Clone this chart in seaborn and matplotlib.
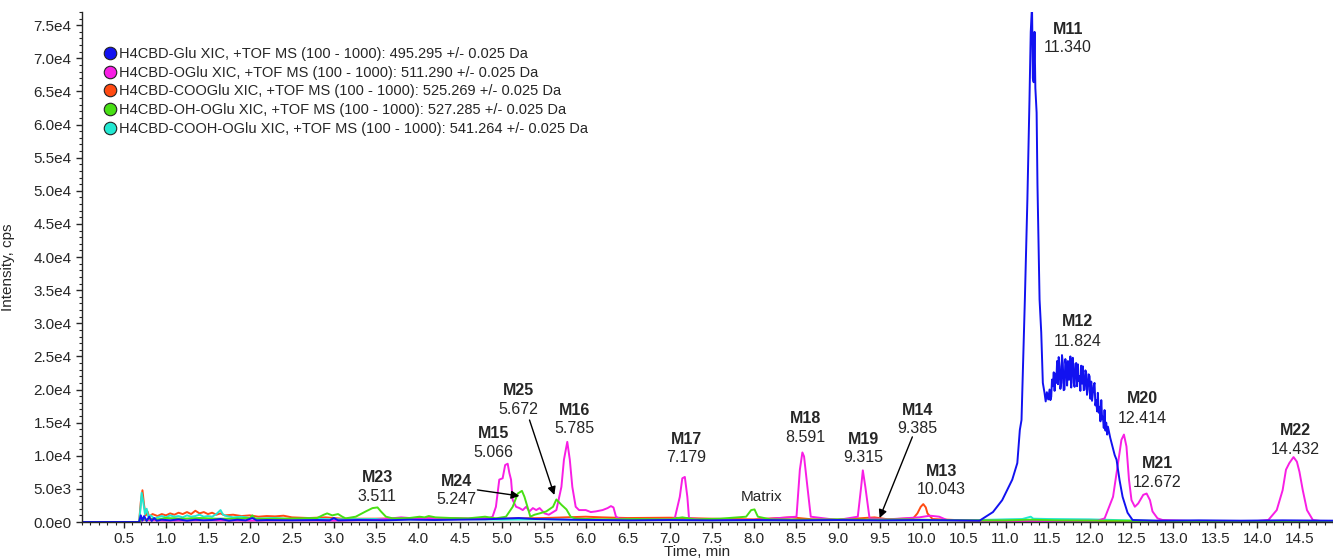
import numpy as np
import pandas as pd
import seaborn as sns
import matplotlib.pyplot as plt
from matplotlib.lines import Line2D
from matplotlib.ticker import FixedLocator, MultipleLocator, FuncFormatter

# XIC traces: (time min, intensity cps)
glu_pts = [(0.0, 0), (0.68, 0), (0.70, 1000), (0.72, 200), (0.74, 900), (0.77, 150), (0.80, 800),
           (0.83, 150), (0.86, 600), (0.89, 200), (0.95, 350), (1.05, 250), (1.15, 400), (1.25, 200),
           (1.35, 350), (1.45, 250), (1.55, 300), (1.65, 450), (1.75, 200), (1.85, 350), (1.95, 250),
           (2.03, 600), (2.08, 250), (2.2, 300), (2.5, 250), (2.8, 300), (2.95, 250), (3.0, 600),
           (3.05, 250), (3.3, 300), (3.6, 250), (3.9, 350), (4.2, 300), (4.5, 350), (4.8, 400),
           (5.0, 500), (5.2, 600), (5.4, 450), (5.6, 400), (5.8, 350), (6.1, 300), (6.5, 250),
           (7.0, 300), (7.5, 250), (8.0, 300), (8.5, 250), (9.0, 300), (9.5, 250), (10.0, 300),
           (10.4, 250), (10.69, 200), (10.85, 1500), (10.96, 3300), (11.08, 6400), (11.14, 8900),
           (11.17, 13900), (11.19, 15400), (11.23, 33600), (11.26, 48700), (11.285, 63800),
           (11.30, 74000), (11.315, 78000), (11.325, 67000), (11.335, 66400), (11.345, 74000),
           (11.355, 65500), (11.37, 61800), (11.38, 51000), (11.39, 43700), (11.405, 33600),
           (11.425, 28600), (11.444, 21000), (11.464, 19500), (11.478, 18200), (11.492, 19600),
           (11.508, 18500), (11.524, 20000), (11.534, 18400), (11.544, 18900), (11.553, 21500),
           (11.563, 20500), (11.574, 22600), (11.584, 19800), (11.594, 22400), (11.604, 21000),
           (11.614, 24300), (11.624, 20800), (11.633, 24900), (11.643, 23500), (11.653, 20100),
           (11.663, 21000), (11.672, 25200), (11.682, 24000), (11.692, 19900), (11.702, 20000),
           (11.712, 24600), (11.723, 23500), (11.733, 20600), (11.743, 24300), (11.752, 21500),
           (11.762, 21500), (11.772, 25000), (11.782, 20300), (11.792, 24400), (11.802, 24800),
           (11.812, 21000), (11.822, 20400), (11.832, 23900), (11.842, 24000), (11.852, 20500),
           (11.862, 23800), (11.871, 21300), (11.881, 22000), (11.891, 19800), (11.901, 23600),
           (11.911, 20900), (11.921, 23500), (11.931, 19900), (11.941, 20000), (11.951, 22900),
           (11.961, 22500), (11.970, 19200), (11.980, 20000), (11.990, 22300), (12.001, 22000),
           (12.011, 18600), (12.021, 21200), (12.030, 18300), (12.040, 19500), (12.050, 20600),
           (12.060, 21000), (12.070, 17600), (12.080, 18400), (12.090, 16700), (12.099, 19500),
           (12.110, 16500), (12.120, 17400), (12.130, 15200), (12.140, 18400), (12.150, 15600),
           (12.159, 15900), (12.170, 14200), (12.179, 16900), (12.190, 13800), (12.199, 15000),
           (12.210, 13200), (12.219, 14400), (12.247, 12700), (12.275, 11300), (12.30, 10100),
           (12.322, 9400), (12.358, 6300), (12.394, 3800), (12.453, 1400), (12.513, 300),
           (12.8, 200), (13.3, 250), (13.8, 200), (14.3, 250), (14.9, 200)]

oglu_pts = [(0.0, 0), (0.68, 0), (0.72, 300), (1.0, 200), (1.5, 250), (2.0, 200), (2.5, 250),
            (3.0, 200), (3.5, 300), (3.8, 700), (4.0, 500), (4.3, 600), (4.6, 500), (4.85, 600),
            (4.89, 800), (4.93, 2300), (4.97, 6400), (5.01, 6600), (5.04, 8600), (5.07, 8800),
            (5.09, 7400), (5.11, 6400), (5.13, 3300), (5.17, 2300), (5.21, 2100), (5.25, 1800),
            (5.29, 2300), (5.33, 1600), (5.37, 2100), (5.41, 1800), (5.45, 2100), (5.51, 1300),
            (5.56, 1100), (5.65, 1800), (5.71, 5300), (5.74, 9400), (5.78, 12100), (5.81, 9400),
            (5.84, 5300), (5.88, 2300), (5.92, 1800), (6.00, 1800), (6.06, 1500), (6.12, 1600),
            (6.20, 1800), (6.26, 2100), (6.30, 2400), (6.33, 2200), (6.36, 800), (6.40, 500),
            (6.7, 400), (7.0, 400), (7.06, 550), (7.12, 3800), (7.15, 6600), (7.18, 6800),
            (7.21, 3800), (7.23, 550), (7.5, 300), (8.0, 300), (8.51, 800), (8.55, 7900),
            (8.58, 10500), (8.60, 9900), (8.64, 5300), (8.68, 800), (9.0, 300), (9.24, 800),
            (9.28, 5300), (9.30, 7800), (9.33, 5300), (9.38, 550), (9.6, 400), (9.97, 700),
            (10.1, 950), (10.21, 800), (10.3, 300), (10.7, 200), (11.5, 150), (12.1, 200),
            (12.18, 550), (12.28, 3800), (12.34, 8900), (12.38, 12400), (12.41, 13200),
            (12.44, 11400), (12.47, 6400), (12.50, 3300), (12.54, 2300), (12.58, 2800),
            (12.64, 4100), (12.68, 4300), (12.72, 3300), (12.75, 1600), (12.81, 550), (12.87, 300),
            (13.2, 150), (14.0, 150), (14.13, 300), (14.23, 1800), (14.30, 4800), (14.34, 7900),
            (14.38, 8900), (14.43, 9800), (14.47, 9100), (14.50, 7600), (14.54, 4800),
            (14.59, 1800), (14.66, 300), (14.75, 150), (14.9, 150)]

cooglu_pts = [(0.0, 0), (0.68, 0), (0.70, 3000), (0.72, 4800), (0.74, 2500), (0.76, 1000),
              (0.78, 1600), (0.80, 800), (0.84, 1200), (0.9, 900), (0.95, 1200), (1.0, 1000),
              (1.05, 1300), (1.1, 1100), (1.15, 1400), (1.2, 1200), (1.25, 1500), (1.3, 1200),
              (1.35, 1700), (1.4, 1300), (1.45, 1500), (1.5, 1200), (1.55, 1400), (1.6, 1100),
              (1.65, 1300), (1.7, 1000), (1.8, 1100), (1.9, 900), (2.0, 1000), (2.1, 800),
              (2.2, 900), (2.3, 850), (2.4, 950), (2.5, 700), (2.7, 600), (2.9, 700), (3.1, 500),
              (3.5, 500), (4.0, 600), (4.5, 500), (5.0, 500), (5.5, 600), (6.0, 800), (6.2, 700),
              (6.5, 600), (7.0, 650), (7.5, 500), (8.0, 400), (8.45, 700), (8.7, 400), (9.0, 350),
              (9.44, 700), (9.6, 400), (9.9, 550), (9.95, 1300), (9.99, 2300), (10.02, 2700),
              (10.05, 2200), (10.07, 1300), (10.13, 450), (10.4, 300), (10.7, 200), (11.3, 150),
              (14.9, 150)]

ohoglu_pts = [(0.0, 0), (0.68, 0), (0.72, 600), (0.76, 300), (0.8, 500), (0.9, 400), (1.0, 600),
              (1.2, 500), (1.4, 600), (1.6, 500), (1.8, 500), (2.0, 600), (2.03, 1000), (2.06, 500),
              (2.3, 500), (2.6, 550), (2.8, 600), (2.88, 1100), (2.92, 1300), (2.98, 1000),
              (3.05, 1200), (3.10, 800), (3.14, 550), (3.26, 800), (3.38, 1600), (3.46, 2100),
              (3.52, 2200), (3.56, 1600), (3.62, 800), (3.70, 550), (3.9, 600), (4.02, 800),
              (4.08, 700), (4.13, 900), (4.21, 700), (4.4, 600), (4.6, 550), (4.8, 800),
              (4.93, 550), (5.05, 800), (5.13, 2300), (5.19, 4300), (5.24, 4700), (5.27, 3800),
              (5.31, 2100), (5.34, 800), (5.39, 1100), (5.45, 1300), (5.53, 1600), (5.61, 2300),
              (5.65, 3400), (5.71, 2600), (5.77, 1900), (5.82, 800), (5.88, 500), (6.2, 400),
              (6.6, 450), (7.0, 400), (7.15, 700), (7.3, 400), (7.6, 500), (7.91, 800),
              (7.97, 1800), (8.01, 1900), (8.05, 800), (8.2, 400), (8.6, 350), (9.0, 400),
              (9.4, 350), (9.8, 400), (10.2, 300), (10.6, 250), (11.0, 250), (11.3, 350),
              (11.6, 250), (12.2, 200), (13.0, 150), (14.9, 150)]

coohoglu_pts = [(0.0, 0), (0.68, 0), (0.70, 2500), (0.71, 4400), (0.73, 3000), (0.75, 1200),
                (0.77, 2000), (0.79, 800), (0.82, 1000), (0.86, 500), (0.9, 700), (0.95, 900),
                (1.0, 700), (1.05, 1000), (1.1, 800), (1.15, 900), (1.2, 700), (1.25, 1000),
                (1.3, 800), (1.35, 900), (1.4, 1100), (1.45, 800), (1.5, 900), (1.55, 800),
                (1.6, 1200), (1.65, 1800), (1.68, 1100), (1.72, 900), (1.8, 700), (1.9, 800),
                (2.0, 600), (2.1, 500), (2.3, 600), (2.5, 400), (2.7, 500), (3.0, 400), (3.5, 450),
                (4.0, 400), (4.5, 450), (5.0, 350), (5.5, 400), (6.0, 300), (7.0, 300), (8.0, 250),
                (9.0, 300), (10.0, 250), (10.7, 300), (11.0, 400), (11.2, 450), (11.3, 800),
                (11.33, 500), (11.5, 450), (12.0, 400), (12.3, 300), (12.6, 200), (13.0, 150),
                (14.9, 150)]

series_names = [
    "H4CBD-Glu XIC, +TOF MS (100 - 1000): 495.295 +/- 0.025 Da",
    "H4CBD-OGlu XIC, +TOF MS (100 - 1000): 511.290 +/- 0.025 Da",
    "H4CBD-COOGlu XIC, +TOF MS (100 - 1000): 525.269 +/- 0.025 Da",
    "H4CBD-OH-OGlu XIC, +TOF MS (100 - 1000): 527.285 +/- 0.025 Da",
    "H4CBD-COOH-OGlu XIC, +TOF MS (100 - 1000): 541.264 +/- 0.025 Da",
]
colors = ["#1212f0", "#f81ee4", "#ff4a12", "#48e014", "#22e8d2"]

# peak labels: name, rt text, label x, bold y, number y
peak_names = ["M11", "M12", "M20", "M21", "M22", "M23", "M24", "M15", "M16", "M25",
              "M17", "M18", "M19", "M14", "M13"]
peak_rts = ["11.340", "11.824", "12.414", "12.672", "14.432", "3.511", "5.247", "5.066", "5.785",
            "5.672", "7.179", "8.591", "9.315", "9.385", "10.043"]
label_x = [11.74, 11.86, 12.63, 12.81, 14.455, 3.516, 4.458, 4.899, 5.864, 5.197,
           7.198, 8.616, 9.307, 9.95, 10.237]
label_y = [74400, 30200, 18600, 8900, 13800, 6650, 6050, 13300, 16900, 19800,
           12400, 15700, 12400, 16900, 7560]
number_y = [71700, 27200, 15700, 5900, 11000, 3780, 3330, 10430, 14060, 16930,
            9680, 12700, 9680, 14060, 4840]

# arrows: (from, to)
arrows = [((4.71, 4840), (5.21, 3930)), ((5.33, 15400), (5.626, 4080)), ((9.89, 12850), (9.50, 600))]

sns.set_style("ticks")
plt.rcParams['font.family'] = ['Liberation Sans', 'DejaVu Sans']

fig = plt.figure(figsize=(13.33, 5.59), dpi=100)
ax = fig.add_axes([82 / 1333, 37 / 559, 1 - 82 / 1333, 510 / 559])

traces = [cooglu_pts, coohoglu_pts, oglu_pts, ohoglu_pts, glu_pts]
trace_cols = [colors[2], colors[4], colors[1], colors[3], colors[0]]
for pts, col in zip(traces, trace_cols):
    df = pd.DataFrame(pts, columns=["t", "i"])
    sns.lineplot(data=df, x="t", y="i", color=col, lw=1.4, ax=ax,
                 sort=False, estimator=None, legend=False)

for name, rt, x, y1, y2 in zip(peak_names, peak_rts, label_x, label_y, number_y):
    ax.text(x, y1, name, ha="center", va="center", fontsize=11.5, fontweight="bold")
    ax.text(x, y2, rt, ha="center", va="center", fontsize=11.5)
ax.text(8.093, 3780, "Matrix", ha="center", va="center", fontsize=11)

for start, tip in arrows:
    ax.annotate("", xy=tip, xytext=start,
                arrowprops=dict(arrowstyle="-|>", color="black", lw=1, mutation_scale=12,
                                shrinkA=0, shrinkB=0))

ax.set_xlim(0, 14.9)
ax.set_ylim(0, 77000)
ax.xaxis.set_major_locator(FixedLocator(np.arange(0.5, 14.6, 0.5)))
ax.xaxis.set_minor_locator(MultipleLocator(0.1))
ax.yaxis.set_major_locator(FixedLocator(np.arange(0, 75001, 5000)))
ax.yaxis.set_minor_locator(MultipleLocator(1000))


def sci_fmt(v, pos):
    if v <= 0:
        return "0.0e0"
    e = int(np.floor(np.log10(v)))
    return f"{v / 10 ** e:.1f}e{e}"


ax.yaxis.set_major_formatter(FuncFormatter(sci_fmt))
ax.tick_params(axis="both", which="major", labelsize=11, length=4, width=1)
ax.tick_params(axis="both", which="minor", length=2, width=0.8)
ax.tick_params(axis="x", pad=3)
sns.despine(ax=ax)
ax.spines["left"].set_linewidth(1)
ax.spines["bottom"].set_linewidth(1)

ax.set_xlabel("Time, min", fontsize=11)
ax.set_ylabel("Intensity, cps", fontsize=11)
ax.xaxis.set_label_coords(0.4916, -0.045)
ax.yaxis.set_label_coords(-0.0536, 0.5)

handles = [Line2D([], [], marker="o", ls="", markerfacecolor=c, markeredgecolor="#222222",
                  markersize=9, markeredgewidth=0.8) for c in colors]
ax.legend(handles, series_names, loc="upper left", bbox_to_anchor=(103 / 1333, 1 - 47 / 559),
          bbox_transform=fig.transFigure, frameon=False, fontsize=10.5, handletextpad=0.1,
          handlelength=1.0, labelspacing=0.32, borderaxespad=0, borderpad=0)

fig.savefig("out.png", dpi=100)
